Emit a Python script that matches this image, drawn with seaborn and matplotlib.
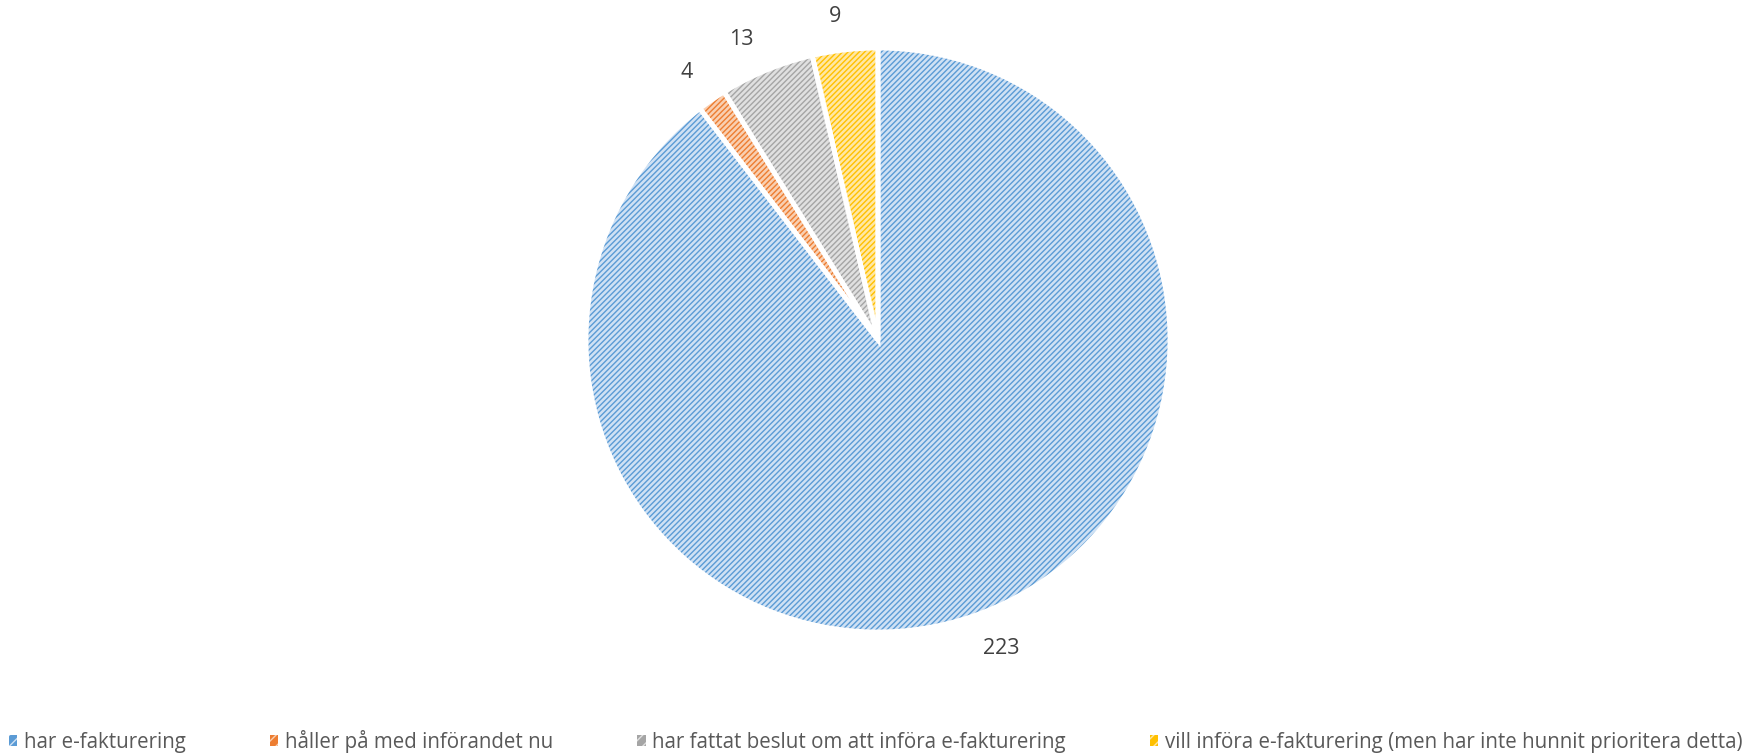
import matplotlib
matplotlib.use("Agg")
import matplotlib.pyplot as plt
import matplotlib.patches as mpatches
import seaborn as sns

categories = [
    "har e-fakturering",
    "håller på med införandet nu",
    "har fattat beslut om att införa e-fakturering",
    "vill införa e-fakturering (men har inte hunnit prioritera detta)",
]
values = [223, 4, 13, 9]

line_colors = ["#5B9BD5", "#ED7D31", "#A5A5A5", "#FFC000"]
face_colors = ["#CFE1F4", "#F9CFB1", "#E0E0E0", "#FFE7A3"]

sns.set_theme(style="white")
plt.rcParams["font.family"] = ["Open Sans", "DejaVu Sans"]
plt.rcParams["hatch.linewidth"] = 1.0

W, H = 1763, 756
fig = plt.figure(figsize=(W / 100, H / 100), dpi=100)
cx, cy, r = 878, 340, 292
ax = fig.add_axes([(cx - r) / W, (H - cy - r) / H, 2 * r / W, 2 * r / H])

wedges, texts = ax.pie(
    values,
    labels=[str(v) for v in values],
    startangle=90,
    counterclock=False,
    labeldistance=1.115,
    textprops={"fontsize": 15.5, "color": "#404040"},
    wedgeprops={"linewidth": 0},
)
for w, fc, lc in zip(wedges, face_colors, line_colors):
    w.set_facecolor(fc)
    w.set_edgecolor(lc)
    w.set_hatch("//////")
    w.set_linewidth(0)

# white separators between slices
ax.pie(
    values,
    startangle=90,
    counterclock=False,
    colors=["none"] * len(values),
    wedgeprops={"linewidth": 3.5, "edgecolor": "white"},
)
ax.set_xlim(-1, 1)
ax.set_ylim(-1, 1)
ax.axis("off")

handles = [
    mpatches.Patch(facecolor=lc, edgecolor=fc, hatch="///", linewidth=0)
    for fc, lc in zip(face_colors, line_colors)
]
leg = fig.legend(
    handles,
    categories,
    loc="lower left",
    bbox_to_anchor=(-0.002, -0.012),
    ncol=4,
    frameon=False,
    fontsize=14.8,
    handlelength=0.42,
    handleheight=0.42,
    handletextpad=0.3,
    columnspacing=4.1,
    borderaxespad=0.2,
)
for t in leg.get_texts():
    t.set_color("#595959")

fig.savefig("out.png", dpi=100)
